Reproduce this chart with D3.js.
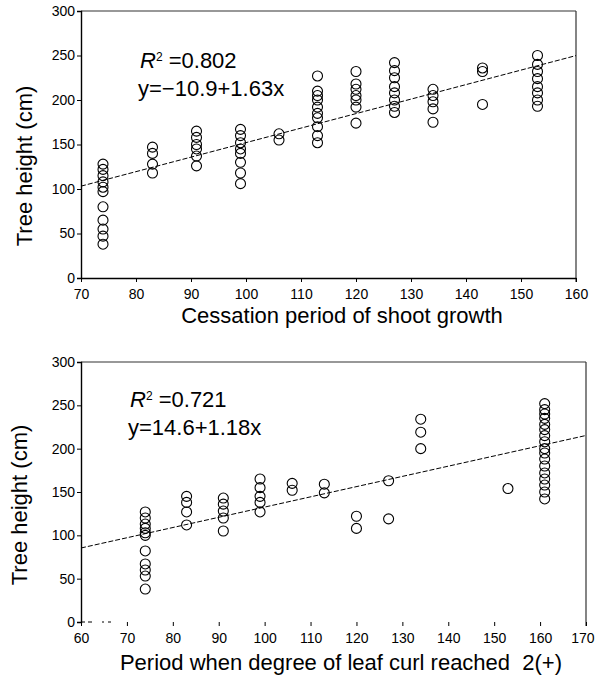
<!DOCTYPE html>
<html>
<head>
<meta charset="utf-8">
<script src="https://cdn.jsdelivr.net/npm/d3@7"></script>
<style>
  body { margin: 0; background: #fff; }
  text { font-family: "Liberation Sans", Arial, sans-serif; fill: #000; }
</style>
</head>
<body>
<svg id="chart" width="595" height="680"></svg>
<script>
// top panel: cessation period of shoot growth
const shootDays = [74, 83, 91, 99, 106, 113, 120, 127, 134, 143, 153];
const shootHeights = [
  [128, 122, 115, 108, 102, 97, 80, 65, 55, 47, 38],
  [147, 140, 128, 118],
  [165, 158, 150, 145, 137, 126],
  [167, 160, 152, 145, 140, 130, 118, 106],
  [162, 155],
  [227, 210, 205, 200, 192, 185, 180, 170, 160, 152],
  [232, 218, 212, 205, 200, 192, 174],
  [242, 233, 225, 215, 208, 200, 193, 186],
  [212, 205, 198, 190, 175],
  [236, 232, 195],
  [250, 240, 232, 224, 215, 208, 200, 193]
];
const shootTicks = [70, 80, 90, 100, 110, 120, 130, 140, 150, 160];
const shootFit = [-10.9, 1.63];

// bottom panel: period when leaf curl reached 2(+)
const curlDays = [74, 83, 91, 99, 106, 113, 120, 127, 134, 153, 161];
const curlHeights = [
  [127, 120, 113, 108, 103, 100, 82, 67, 60, 53, 38],
  [145, 138, 127, 112],
  [143, 136, 128, 120, 105],
  [165, 155, 145, 138, 127],
  [160, 152],
  [159, 149],
  [122, 108],
  [163, 119],
  [234, 219, 200],
  [154],
  [252, 245, 240, 235, 228, 222, 215, 208, 200, 195, 188, 180, 172, 165, 158, 150, 142]
];
const curlTicks = [60, 70, 80, 90, 100, 110, 120, 130, 140, 150, 160, 170];
const curlFit = [14.6, 1.18];

const heightTicks = [0, 50, 100, 150, 200, 250, 300];

const svg = d3.select('#chart');

function drawPanel(p) {
  const g = svg.append('g');
  const x = d3.scaleLinear().domain(d3.extent(p.ticks)).range([p.left, p.right]);
  const y = d3.scaleLinear().domain([0, 300]).range([p.bottom, p.top]);

  // frame
  g.append('line').attr('x1', p.left).attr('x2', p.right).attr('y1', p.top).attr('y2', p.top)
    .attr('stroke', '#333').attr('stroke-width', 1.2);
  g.append('line').attr('x1', p.right).attr('x2', p.right).attr('y1', p.top).attr('y2', p.bottom + 4)
    .attr('stroke', '#333').attr('stroke-width', 1.2);

  // y axis
  const ya = g.append('g').attr('transform', 'translate(' + p.left + ',0)')
    .call(d3.axisLeft(y).tickValues(heightTicks).tickSize(4).tickPadding(2));
  ya.select('.domain').attr('stroke-width', 1.4);
  ya.selectAll('text').style('font-size', '14px').style('font-family', '"Liberation Sans", Arial, sans-serif');

  // x axis
  const xa = g.append('g').attr('transform', 'translate(0,' + p.bottom + ')')
    .call(d3.axisBottom(x).tickValues(p.ticks).tickSize(4).tickPadding(7).tickSizeOuter(0));
  xa.selectAll('text').style('font-size', '14px').style('font-family', '"Liberation Sans", Arial, sans-serif');
  // keep the last label inside the page edge
  xa.selectAll('.tick text').filter(d => d === 170).attr('text-anchor', 'end').attr('dx', 8);
  if (p.noBaseline) {
    xa.select('.domain').remove();
    g.append('line').attr('x1', x(60)).attr('x2', x(67)).attr('y1', p.bottom).attr('y2', p.bottom)
      .attr('stroke', '#000').attr('stroke-dasharray', '4,3,4,10,2');
  } else {
    xa.select('.domain').attr('stroke-width', 1.4);
  }

  // fitted line
  const dom = x.domain();
  g.append('path')
    .datum(dom)
    .attr('fill', 'none')
    .attr('stroke', '#000')
    .attr('stroke-width', 1)
    .attr('stroke-dasharray', '5,2')
    .attr('d', d3.line().x(d => x(d)).y(d => y(p.fit[0] + p.fit[1] * d)));

  // points
  const pts = [];
  p.days.forEach((d, i) => p.heights[i].forEach(h => pts.push({ d: d, h: h })));
  g.selectAll('circle.pt')
    .data(pts)
    .enter()
    .append('circle')
    .attr('class', 'pt')
    .attr('cx', d => x(d.d))
    .attr('cy', d => y(d.h))
    .attr('r', 5)
    .attr('fill', 'none')
    .attr('stroke', '#000')
    .attr('stroke-width', 1.1);

  // annotations
  const r2 = g.append('text').attr('x', p.noteX).attr('y', p.noteY).style('font-size', '22px');
  r2.append('tspan').style('font-style', 'italic').text('R');
  r2.append('tspan').attr('dy', -7).style('font-size', '12px').text('2');
  r2.append('tspan').attr('dy', 7).text(' =' + p.r2);
  g.append('text').attr('x', p.noteX - 2).attr('y', p.noteY + 28).style('font-size', '22px').text(p.eq);

  // axis titles
  g.append('text')
    .attr('transform', 'translate(' + p.yTitleX + ',' + p.yTitleY + ') rotate(-90)')
    .attr('text-anchor', 'middle')
    .style('font-size', '22px')
    .text('Tree height (cm)');
  g.append('text')
    .attr('x', p.xTitleX).attr('y', p.xTitleY)
    .attr('text-anchor', 'middle')
    .style('font-size', '22px')
    .style('white-space', 'pre')
    .text(p.xTitle);
}

drawPanel({
  days: shootDays, heights: shootHeights, ticks: shootTicks, fit: shootFit,
  left: 81, right: 576, top: 11, bottom: 278,
  r2: '0.802', eq: 'y=\u221210.9+1.63x', noteX: 140, noteY: 68,
  yTitleX: 32, yTitleY: 166,
  xTitle: 'Cessation period of shoot growth', xTitleX: 342, xTitleY: 323
});

drawPanel({
  days: curlDays, heights: curlHeights, ticks: curlTicks, fit: curlFit,
  left: 81, right: 586, top: 362, bottom: 622, noBaseline: true,
  r2: '0.721', eq: 'y=14.6+1.18x', noteX: 130, noteY: 407,
  yTitleX: 27, yTitleY: 505,
  xTitle: 'Period when degree of leaf curl reached  2(+)', xTitleX: 341, xTitleY: 670
});
</script>
</body>
</html>
